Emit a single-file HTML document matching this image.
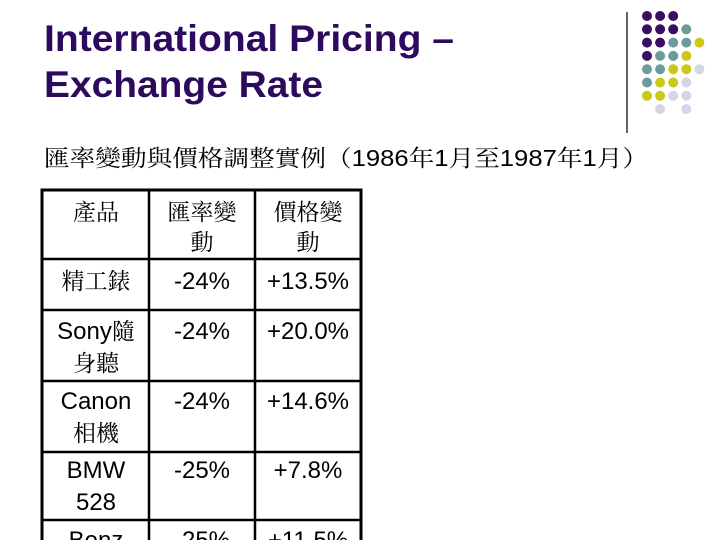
<!DOCTYPE html>
<html><head><meta charset="utf-8"><style>
html,body{margin:0;padding:0;background:#fff;}
svg{display:block;}
.t{font-family:"Liberation Sans",sans-serif;font-weight:bold;font-size:37px;fill:#2e0a5e;}
.c{font-family:"Liberation Sans","Noto Serif CJK SC",serif;font-size:23px;fill:#000;}
.n{font-family:"Liberation Sans","Noto Sans CJK SC",sans-serif;font-size:24px;fill:#000;}
</style></head><body>
<svg width="720" height="540" viewBox="0 0 720 540">
<text class="t" x="44" y="51" textLength="410" lengthAdjust="spacingAndGlyphs">International Pricing –</text>
<text class="t" x="44" y="97" textLength="279" lengthAdjust="spacingAndGlyphs">Exchange Rate</text>
<text x="44" y="166" textLength="604" lengthAdjust="spacingAndGlyphs" style="font-family:'Liberation Sans','Noto Serif CJK SC',serif;font-size:23px;">匯率變動與價格調整實例（1986年1月至1987年1月）</text>
<line x1="627" y1="12" x2="627" y2="133" stroke="#000" stroke-width="1.2"/>
<g id="dots"></g>
<g>
<rect x="42" y="190" width="319" height="360" fill="none" stroke="#000" stroke-width="3"/>
<line x1="149" y1="190" x2="149" y2="540" stroke="#000" stroke-width="2.5"/>
<line x1="255" y1="190" x2="255" y2="540" stroke="#000" stroke-width="2.5"/>
<line x1="42" y1="259" x2="361" y2="259" stroke="#000" stroke-width="2.5"/>
<line x1="42" y1="310" x2="361" y2="310" stroke="#000" stroke-width="2.5"/>
<line x1="42" y1="381" x2="361" y2="381" stroke="#000" stroke-width="2.5"/>
<line x1="42" y1="452" x2="361" y2="452" stroke="#000" stroke-width="2.5"/>
<line x1="42" y1="520" x2="361" y2="520" stroke="#000" stroke-width="2.5"/>
<g text-anchor="middle">
<text class="c" x="96" y="220">產品</text>
<text class="c" x="202" y="220">匯率變</text>
<text class="c" x="202" y="250">動</text>
<text class="c" x="308" y="220">價格變</text>
<text class="c" x="308" y="250">動</text>
<text class="c" x="96" y="289">精工錶</text>
<text class="n" x="202" y="289">-24%</text>
<text class="n" x="308" y="289">+13.5%</text>
<text class="n" x="96" y="339">Sony<tspan style="font-family:'Noto Serif CJK SC',serif;font-size:23px">隨</tspan></text>
<text class="c" x="96" y="371">身聽</text>
<text class="n" x="202" y="339">-24%</text>
<text class="n" x="308" y="339">+20.0%</text>
<text class="n" x="96" y="409">Canon</text>
<text class="c" x="96" y="441">相機</text>
<text class="n" x="202" y="409">-24%</text>
<text class="n" x="308" y="409">+14.6%</text>
<text class="n" x="96" y="478">BMW</text>
<text class="n" x="96" y="510">528</text>
<text class="n" x="202" y="478">-25%</text>
<text class="n" x="308" y="478">+7.8%</text>
<text class="n" x="96" y="548">Benz</text>
<text class="n" x="202" y="548">-25%</text>
<text class="n" x="308" y="548">+11.5%</text>
</g></g>
</svg>
<script>
const grid=["PPP__","PPPT_","PPTTY","PTTY_","TTYYL","TYYL_","YYLL_","_L_L_"];
const col={P:"#3b0d63",T:"#6d9b9c",Y:"#cdc71c",L:"#d5d5e8"};
const g=document.getElementById('dots');
grid.forEach((row,r)=>{[...row].forEach((ch,c)=>{if(ch==='_')return;
const e=document.createElementNS('http://www.w3.org/2000/svg','circle');


e.setAttribute('cx',647+c*13.1);e.setAttribute('cy',16+r*13.3);e.setAttribute('r',5);e.setAttribute('fill',col[ch]);g.appendChild(e);});});
</script>
</body></html>
